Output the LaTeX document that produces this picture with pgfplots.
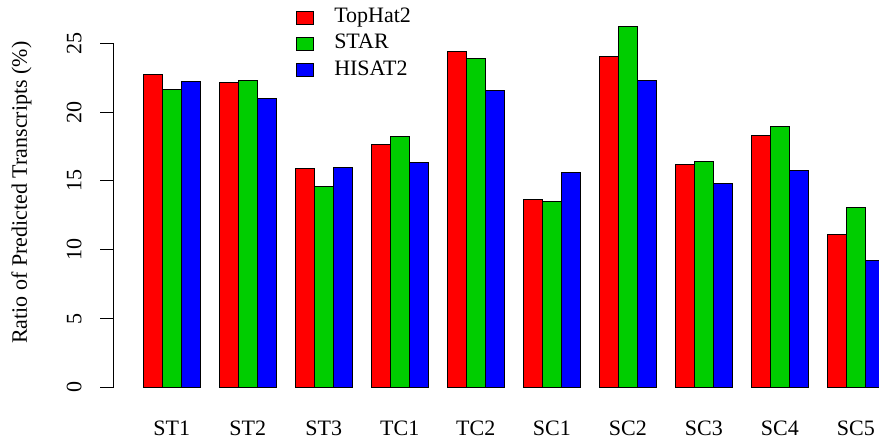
\documentclass[border=0pt]{standalone}
\usepackage{fontspec}
\setmainfont{Liberation Serif}
\usepackage{pgfplots}
\usepackage{pgfplotstable}
\pgfplotsset{compat=1.18}

\definecolor{thred}{RGB}{255,0,0}
\definecolor{stargreen}{RGB}{0,205,0}
\definecolor{hisatblue}{RGB}{0,0,255}

% Ratio of predicted transcripts (%) per sample and aligner
\pgfplotstableread{
g label tophat star  hisat
0 ST1   22.76  21.67 22.25
1 ST2   22.18  22.32 21.02
2 ST3   15.88  14.58 15.98
3 TC1   17.68  18.21 16.34
4 TC2   24.43  23.92 21.57
5 SC1   13.68  13.54 15.64
6 SC2   24.02  26.25 22.27
7 SC3   16.17  16.44 14.79
8 SC4   18.28  18.93 15.79
9 SC5   11.08  13.08  9.25
}\ratios

\begin{document}
\begin{tikzpicture}[font=\fontsize{11pt}{13.2pt}\selectfont]
\useasboundingbox (0,0) rectangle (439.5pt,221.5pt);
\clip (0,0) rectangle (439.5pt,221.5pt);
\begin{axis}[
  at={(56.83pt,27.75pt)}, anchor=south west,
  x=9.5pt, y=6.884pt,
  xmin=-0.56, xmax=41.56, ymin=0, ymax=25,
  clip=false,
  axis y line*=left, axis x line*=bottom,
  x axis line style={draw=none},
  y axis line style={-, line width=0.5pt},
  ybar, bar width=1,
  xtick={2.5,6.5,...,38.5},
  xticklabels={ST1,ST2,ST3,TC1,TC2,SC1,SC2,SC3,SC4,SC5},
  x tick style={draw=none},
  ytick={0,5,...,25},
  y tick style={black, line width=0.5pt},
  tick align=outside,
  major tick length=6.65pt,
  xticklabel style={anchor=base},
  xticklabel shift=17.45pt,
  yticklabel style={rotate=90, anchor=base},
  yticklabel shift=9.55pt,
  /pgf/number format/assume math mode=true,
  ylabel={Ratio of Predicted Transcripts (\%)},
  ylabel style={at={(axis description cs:-0.1083,0.566)}, anchor=base},
  legend image code/.code={\draw[#1, draw=black, line width=0.5pt] (0pt,-3.25pt) rectangle (8.3pt,3.25pt);},
  legend cell align=left,
  legend style={at={(axis description cs:0.2278,1.1005)}, anchor=north west,
    draw=none, fill=none, inner sep=0pt, outer sep=0pt,
    row sep=4.1pt, column sep=10.35pt,
    nodes={inner sep=0pt, text height=7pt, text depth=2pt}},
]
\addplot[bar shift=0pt, fill=thred, draw=black, line width=0.5pt]
  table[x expr=4*\thisrow{g}+1.5, y=tophat] {\ratios};
\addlegendentry{TopHat2}
\addplot[bar shift=0pt, fill=stargreen, draw=black, line width=0.5pt]
  table[x expr=4*\thisrow{g}+2.5, y=star] {\ratios};
\addlegendentry{STAR}
\addplot[bar shift=0pt, fill=hisatblue, draw=black, line width=0.5pt]
  table[x expr=4*\thisrow{g}+3.5, y=hisat] {\ratios};
\addlegendentry{HISAT2}
\end{axis}
\end{tikzpicture}
\end{document}
